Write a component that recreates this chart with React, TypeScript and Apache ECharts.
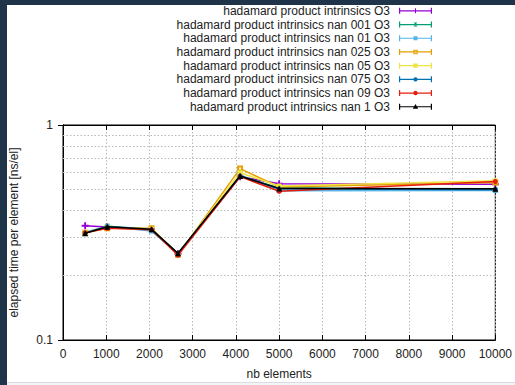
import React, { useEffect, useRef } from "react";
import * as echarts from "echarts";

const X_VALUES = [512, 1024, 2048, 2660, 4096, 5000, 10000];

const SERIES_NAMES = [
  "hadamard product intrinsics O3",
  "hadamard product intrinsics nan 001 O3",
  "hadamard product intrinsics nan 01 O3",
  "hadamard product intrinsics nan 025 O3",
  "hadamard product intrinsics nan 05 O3",
  "hadamard product intrinsics nan 075 O3",
  "hadamard product intrinsics nan 09 O3",
  "hadamard product intrinsics nan 1 O3",
];

const PURPLE = [0.34, 0.335, 0.327, 0.252, 0.575, 0.533, 0.53];
const GREEN = [0.316, 0.338, 0.327, 0.252, 0.578, 0.51, 0.5];
const LIGHTBLUE = [0.316, 0.337, 0.321, 0.252, 0.585, 0.495, 0.496];
const ORANGE = [0.315, 0.331, 0.331, 0.249, 0.627, 0.515, 0.54];
const YELLOW = [0.316, 0.334, 0.328, 0.251, 0.6, 0.52, 0.55];
const BLUE = [0.315, 0.336, 0.326, 0.252, 0.58, 0.505, 0.5];
const RED = [0.315, 0.331, 0.326, 0.248, 0.575, 0.492, 0.546];
const BLACK = [0.314, 0.336, 0.327, 0.253, 0.579, 0.506, 0.505];

const SERIES_VALUES = [PURPLE, GREEN, LIGHTBLUE, ORANGE, YELLOW, BLUE, RED, BLACK];
const COLORS = ["#9400d3", "#009e73", "#56b4e9", "#e69f00", "#f0e442", "#0072b2", "#e51e10", "#000000"];

const Y_MINOR_GRID = [0.2, 0.3, 0.4, 0.5, 0.6, 0.7, 0.8, 0.9];

// chart marker symbols
const PLUS = "path://M0,2.2h6v1.6h-6z M2.2,0h1.6v6h-1.6z";
const CROSS = "path://M0,0L6,0L0,6L6,6Z";
const CHART_SYMBOLS = [PLUS, CROSS, "rect", "emptyRect", "rect", "circle", "circle", "triangle"];
const CHART_SYMBOL_SIZES = [7, 5, 5, 4, 5, 5, 5, 6];

// legend icons: errorbar-like line with caps and marker in the middle (33x6 box)
const BASE = "M0,0h1.2v6h-1.2z M31.8,0h1.2v6h-1.2z M0,2.4h33v1.2h-33z ";
const LEGEND_MARKS = [
  "M16,0.5h1v5h-1z",
  "M14.5,1L18.5,1L14.5,5L18.5,5Z",
  "M14.5,1h4v4h-4z",
  "M14.3,0.8h4.4v4.4h-4.4z M15.3,1.8v2.4h2.4v-2.4z",
  "M14.3,0.8h4.4v4.4h-4.4z",
  "M16.5,0.8A2.2,2.2,0,1,1,16.49,0.8Z",
  "M16.5,0.8A2.2,2.2,0,1,1,16.49,0.8Z",
  "M16.5,0.3L19.2,5L13.8,5Z",
];

export default function App() {
  const ref = useRef<HTMLDivElement>(null);

  useEffect(() => {
    if (!ref.current) return;
    const chart = echarts.init(ref.current, undefined, { renderer: "svg", width: 515, height: 385 });
    const font = "Liberation Sans, Arial, sans-serif";

    const series: any[] = SERIES_NAMES.map((name, i) => ({
      name,
      type: "line",
      xAxisIndex: 0,
      yAxisIndex: 0,
      data: X_VALUES.map((x, j) => [x, SERIES_VALUES[i][j]]),
      symbol: CHART_SYMBOLS[i],
      symbolSize: CHART_SYMBOL_SIZES[i],
      showSymbol: true,
      color: COLORS[i],
      lineStyle: { width: 1.5, color: COLORS[i] },
      itemStyle: { color: COLORS[i], borderWidth: i === 3 ? 1 : 0, borderColor: COLORS[i] },
      z: 3 + i,
    }));

    series[0].markLine = {
      silent: true,
      symbol: "none",
      label: { show: false },
      lineStyle: { type: [1.5, 2], color: "#b8b8b8", width: 1 },
      data: Y_MINOR_GRID.map((v) => ({ yAxis: v })),
      z: 1,
    };

    chart.setOption({
      animation: false,
      backgroundColor: "transparent",
      textStyle: { fontFamily: font },
      grid: {
        left: 62,
        right: 16,
        top: 125,
        bottom: 38,
        show: true,
        borderColor: "#000",
        borderWidth: 1,
        backgroundColor: "transparent",
      },
      legend: {
        orient: "vertical",
        right: 83,
        top: 4,
        align: "right",
        padding: 0,
        itemGap: 0,
        itemWidth: 33,
        itemHeight: 6,
        selectedMode: false,
        textStyle: {
          fontSize: 12,
          color: "#222",
          fontFamily: font,
          lineHeight: 13.7,
          padding: [0, 4, 0, 0],
        },
        data: SERIES_NAMES.map((name, i) => ({
          name,
          icon: "path://" + BASE + LEGEND_MARKS[i],
          itemStyle: { color: COLORS[i], borderWidth: 0 },
        })),
      },
      xAxis: [
        {
          type: "value",
          min: 0,
          max: 10000,
          interval: 1000,
          name: "nb elements",
          nameLocation: "middle",
          nameGap: 28,
          nameTextStyle: { fontSize: 12, color: "#222", fontFamily: font },
          axisLine: { show: true, lineStyle: { color: "#000", width: 1 } },
          axisTick: { show: true, inside: true, length: 5, lineStyle: { color: "#000" } },
          axisLabel: {
            fontSize: 12,
            color: "#222",
            margin: 8,
            fontFamily: font,
            formatter: (v: number) => String(v),
          },
          splitLine: { show: true, lineStyle: { type: [1.5, 2], color: "#b8b8b8", width: 1 } },
        },
        {
          type: "value",
          position: "top",
          min: 0,
          max: 10000,
          interval: 1000,
          axisLine: { show: true, lineStyle: { color: "#000", width: 1 } },
          axisTick: { show: true, inside: true, length: 5, lineStyle: { color: "#000" } },
          axisLabel: { show: false },
          splitLine: { show: false },
        },
      ],
      yAxis: [
        {
          type: "log",
          logBase: 10,
          min: 0.1,
          max: 1,
          name: "elapsed time per element [ns/el]",
          nameLocation: "middle",
          nameGap: 43,
          nameTextStyle: { fontSize: 12, color: "#222", fontFamily: font },
          axisLine: { show: true, lineStyle: { color: "#000", width: 1 } },
          axisTick: { show: true, inside: true, length: 5, lineStyle: { color: "#000" } },
          axisLabel: { fontSize: 12, color: "#222", margin: 10, fontFamily: font },
          splitLine: { show: false },
        },
        {
          type: "log",
          logBase: 10,
          min: 0.1,
          max: 1,
          position: "right",
          axisLine: { show: true, lineStyle: { color: "#000", width: 1 } },
          axisTick: { show: true, inside: true, length: 5, lineStyle: { color: "#000" } },
          axisLabel: { show: false },
          splitLine: { show: false },
        },
      ],
      series,
    });

    return () => chart.dispose();
  }, []);

  return (
    <div
      style={{
        position: "fixed",
        left: 0,
        top: 0,
        width: 515,
        height: 385,
        background: "#1f3349",
        overflow: "hidden",
      }}
    >
      <div
        style={{
          position: "absolute",
          left: 7,
          top: 5,
          width: 508,
          height: 380,
          background: "#f3f4f7",
        }}
      />
      <div
        style={{
          position: "absolute",
          left: 7,
          top: 5,
          width: 508,
          height: 377,
          background: "#ffffff",
          overflow: "hidden",
          borderBottom: "1px solid #d9dce3",
        }}
      >
        <div
          ref={ref}
          style={{ position: "absolute", left: -7, top: -5, width: 515, height: 385 }}
        />
      </div>
    </div>
  );
}
